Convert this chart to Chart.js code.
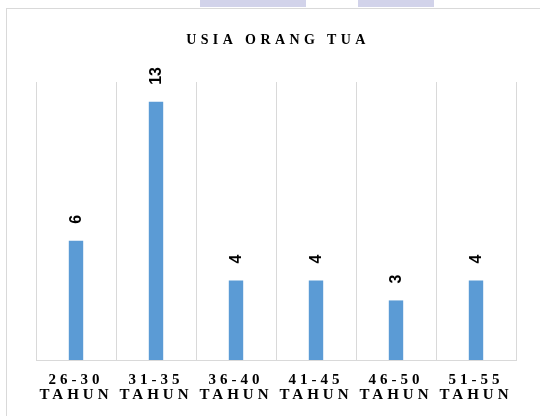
<!DOCTYPE html>
<html>
<head>
<meta charset="utf-8">
<script src="https://cdn.jsdelivr.net/npm/chart.js@4"></script>
<style>
  html, body { margin: 0; padding: 0; background: #fff; }
  #wrap { position: relative; width: 540px; height: 416px; overflow: hidden; }
  #frame { position: absolute; left: 6px; top: 8px; width: 540px; height: 420px;
           border-left: 1px solid #d9d9d9; border-top: 1px solid #d9d9d9; }
  .smudge { position: absolute; top: 0; height: 7px; background: #d2d3ea; }
  canvas { position: absolute; left: 0; top: 0; }
</style>
</head>
<body>
<div id="wrap">
  <div class="smudge" style="left:200px;width:106px"></div>
  <div class="smudge" style="left:358px;width:76px"></div>
  <div id="frame"></div>
  <canvas id="usiaChart" width="540" height="416"></canvas>
</div>
<script>
const chartTitle = 'USIA ORANG TUA'
const ageGroups = ['26-30', '31-35', '36-40', '41-45', '46-50', '51-55']
const ageUnit = 'TAHUN'
const counts = [6, 13, 4, 4, 3, 4]

const serif = "'Liberation Serif', 'Times New Roman', serif"

// chart.js has no letter spacing option, so put it on the context
const spacingPlugin = {
    id: 'spacing',
    beforeLayout: (chart) => { chart.ctx.letterSpacing = '4px' },
    beforeDraw: (chart) => { chart.ctx.letterSpacing = '4px' },
}

const titlePlugin = {
    id: 'spacedTitle',
    afterDraw: (chart) => {
        const ctx = chart.ctx
        const {left, right} = chart.chartArea
        ctx.save()
        ctx.letterSpacing = '4.4px'
        ctx.font = `bold 14px ${serif}`
        ctx.fillStyle = '#000'
        ctx.textAlign = 'center'
        ctx.textBaseline = 'middle'
        ctx.fillText(chartTitle, (left + right) / 2 + 2, 40)
        ctx.restore()
    }
}

const valueLabels = {
    id: 'valueLabels',
    afterDatasetsDraw: (chart) => {
        const ctx = chart.ctx
        const meta = chart.getDatasetMeta(0)
        ctx.save()
        ctx.letterSpacing = '0px'
        ctx.font = "bold 16px 'Liberation Sans', Arial, sans-serif"
        ctx.fillStyle = '#000'
        meta.data.forEach((bar, i) => {
            ctx.save()
            ctx.translate(bar.x, bar.y - 17)
            ctx.rotate(-Math.PI / 2)
            ctx.textAlign = 'left'
            ctx.textBaseline = 'middle'
            ctx.fillText(String(counts[i]), 0, 1)
            ctx.restore()
        })
        ctx.restore()
    }
}

const ctx = document.getElementById('usiaChart').getContext('2d')
new Chart(ctx, {
    type: 'bar',
    data: {
        labels: ageGroups.map(g => [g, ageUnit]),
        datasets: [{
            data: counts,
            backgroundColor: '#5b9bd5',
            borderWidth: 0,
            barPercentage: 0.18,
            categoryPercentage: 1.0,
        }]
    },
    options: {
        responsive: false,
        animation: false,
        layout: {
            padding: {left: 36, right: 24, top: 82, bottom: 0}
        },
        plugins: {
            legend: {display: false},
            title: {display: false},
            tooltip: {enabled: false},
        },
        scales: {
            x: {
                grid: {
                    color: '#d9d9d9',
                    lineWidth: 1,
                    drawTicks: false,
                    offset: true,
                },
                border: {color: '#d9d9d9'},
                ticks: {
                    color: '#000',
                    padding: 13,
                    autoSkip: false,
                    maxRotation: 0,
                    font: {family: serif, size: 15, weight: 'bold', lineHeight: 1.0},
                }
            },
            y: {
                display: false,
                min: 0,
                max: 14,
            }
        }
    },
    plugins: [spacingPlugin, titlePlugin, valueLabels]
})
</script>
</body>
</html>
